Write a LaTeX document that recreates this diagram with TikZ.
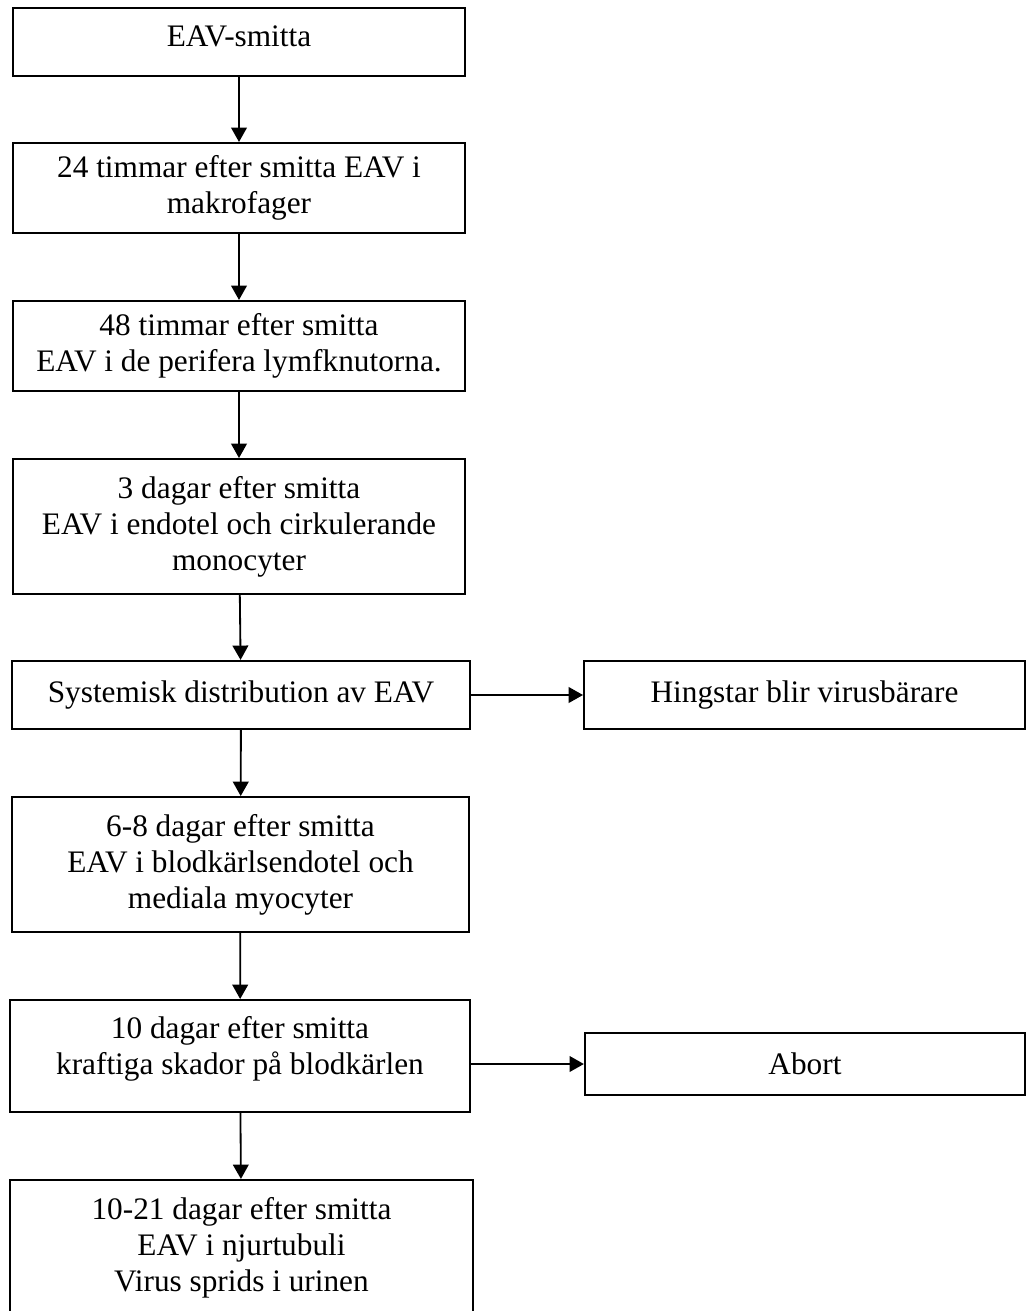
\documentclass[tikz,border=0pt]{standalone}
\usepackage{fontspec}
\setmainfont{Liberation Serif}
\usetikzlibrary{arrows.meta}

\begin{document}
\begin{tikzpicture}[x=0.3833pt, y=-0.3833pt,
    stage/.style={draw, line width=0.8pt, align=center, inner sep=0pt,
      font=\fontsize{12}{13.8}\selectfont},
    flow/.style={-{Triangle[length=5.5pt,width=6pt]}, line width=0.7pt}]
        \useasboundingbox (0,0) rectangle (1032,1311);

        \node[stage, minimum width=173.3pt, minimum height=26.1pt, text depth=4.5pt] (smitta) at (239,42) {EAV-smitta};
        \node[stage, minimum width=173.3pt, minimum height=34.5pt] (makro) at (239,188) {24 timmar efter smitta EAV i\\makrofager};
        \node[stage, minimum width=173.3pt, minimum height=34.5pt] (lymf) at (239,346) {48 timmar efter smitta\\EAV i de perifera lymfknutorna.};
        \node[stage, minimum width=173.3pt, minimum height=51.7pt] (endo) at (239,526.5) {3 dagar efter smitta\\EAV i endotel och cirkulerande\\monocyter};
        \node[stage, minimum width=175.5pt, minimum height=26.1pt] (syst) at (241,695) {Systemisk distribution av EAV};
        \node[stage, minimum width=169pt, minimum height=26.1pt] (hingst) at (804.5,695) {Hingstar blir virusbärare};
        \node[stage, minimum width=175.2pt, minimum height=51.7pt] (myo) at (240.5,864.5) {6-8 dagar efter smitta\\EAV i blodkärlsendotel och\\mediala myocyter};
        \node[stage, minimum width=176.3pt, minimum height=42.9pt, text depth=8pt] (skador) at (240,1056) {10 dagar efter smitta\\kraftiga skador på blodkärlen};
        \node[stage, minimum width=168.7pt, minimum height=23.8pt] (abort) at (805,1064) {Abort};
        \node[stage, minimum width=177.5pt, minimum height=57.5pt, text depth=8pt] (njur) at (241.5,1255) {10-21 dagar efter smitta\\EAV i njurtubuli\\Virus sprids i urinen};

        \draw[flow] (smitta) to (makro);
        \draw[flow] (makro) to (lymf);
        \draw[flow] (lymf) to (endo);
        \draw[flow] (endo) to (syst);
        \draw[flow] (syst) to (hingst);
        \draw[flow] (syst) to (myo);
        \draw[flow] (myo) to (skador);
        \draw[flow] (abort.west -| skador.east) to (abort);
        \draw[flow] (skador) to (njur);
      \end{tikzpicture}
\end{document}
